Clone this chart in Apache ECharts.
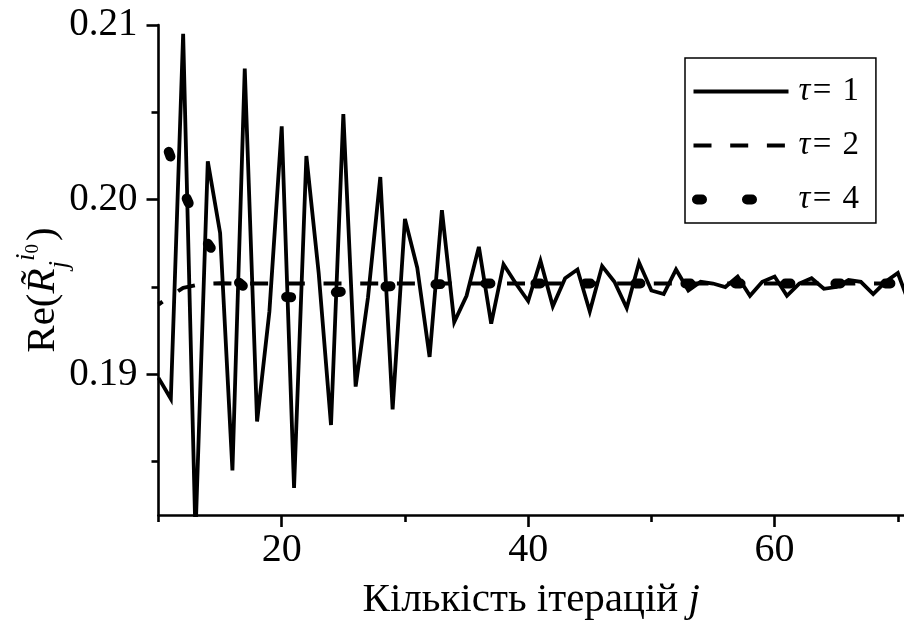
<!DOCTYPE html>
<html><head><meta charset="utf-8">
<script src="https://cdn.jsdelivr.net/npm/echarts@6/dist/echarts.min.js"></script>
<style>html,body{margin:0;padding:0;background:#fff}#c{width:904px;height:623px}</style>
</head><body><div id="c"></div>
<script>
// ---- data ----
const iterations = [10,11,12,13,14,15,16,17,18,19,20,21,22,23,24,25,26,27,28,29,30,31,32,33,34,35,36,37,38,39,40,41,42,43,44,45,46,47,48,49,50,51,52,53,54,55,56,57,58,59,60,61,62,63,64,65,66,67,68,69,70,71];
const tau1 = [0.1898,0.1886,0.2095,0.1808,0.2022,0.1981,0.1845,0.2075,0.1873,0.1936,0.2042,0.1835,0.2025,0.1958,0.1871,0.2049,0.1893,0.1944,0.2013,0.1880,0.1989,0.1961,0.1910,0.1994,0.1930,0.1945,0.1973,0.1929,0.1963,0.1952,0.1942,0.1965,0.1939,0.1955,0.1960,0.1936,0.1962,0.1953,0.1938,0.1964,0.1948,0.1946,0.1960,0.1948,0.1953,0.1952,0.1950,0.1956,0.1945,0.1953,0.1956,0.1945,0.1952,0.1955,0.1949,0.1950,0.1954,0.1953,0.1946,0.1953,0.1958,0.1939];
const tau2 = [0.1940,0.1945,0.19495,0.1951,0.1952,0.19522,0.1952,0.1952,0.1952,0.1952,0.1952,0.1952,0.1952,0.1952,0.1952,0.1952,0.1952,0.1952,0.1952,0.1952,0.1952,0.1952,0.1952,0.1952,0.1952,0.1952,0.1952,0.1952,0.1952,0.1952,0.1952,0.1952,0.1952,0.1952,0.1952,0.1952,0.1952,0.1952,0.1952,0.1952,0.1952,0.1952,0.1952,0.1952,0.1952,0.1952,0.1952,0.1952,0.1952,0.1952,0.1952,0.1952,0.1952,0.1952,0.1952,0.1952,0.1952,0.1952,0.1952,0.1952,0.1952,0.1952];
const tau4 = [0.20431,0.20241,0.20052,0.19893,0.19748,0.19650,0.19556,0.19498,0.19480,0.19463,0.19445,0.19441,0.19449,0.19458,0.19467,0.19475,0.19483,0.19492,0.19500,0.19506,0.19508,0.19511,0.19514,0.19517,0.1952,0.1952,0.1952,0.1952,0.1952,0.1952,0.1952,0.1952,0.1952,0.1952,0.1952,0.1952,0.1952,0.1952,0.1952,0.1952,0.1952,0.1952,0.1952,0.1952,0.1952,0.1952,0.1952,0.1952,0.1952,0.1952,0.1952,0.1952,0.1952,0.1952,0.1952,0.1952,0.1952,0.1952,0.1952,0.1952,0.1952,0.1952];
const seriesNames = ['τ =1', 'τ =2', 'τ =4'];
const xMajorTicks = [20, 40, 60];
const xMinorTicks = [10, 30, 50, 70];
const yMajorTicks = [0.19, 0.20, 0.21];
const yMinorTicks = [0.185, 0.195, 0.205];
const xTitle = 'Кількість ітерацій ';
const xTitleVar = 'j';

// ---- chart ----
const F = 'Liberation Serif';
const pairs = arr => iterations.map((x, i) => [x, arr[i]]);
const chart = echarts.init(document.getElementById('c'), null, {renderer: 'canvas'});
const axisLineStyle = {color: '#000', width: 2.6};
const xMin = 10, xMax = 70.5, yMin = 0.18195, yMax = 0.21;
const hiddenSymbol = {color: 'rgba(0,0,0,0)', borderColor: 'rgba(0,0,0,0)', borderWidth: 0};

chart.setOption({
  animation: false,
  backgroundColor: '#fff',
  grid: {left: 158.5, right: 0, top: 25, bottom: 108, containLabel: false, outerBoundsMode: 'none'},
  xAxis: [
    {
      type: 'value', min: xMin, max: xMax, position: 'bottom',
      axisLine: {show: true, onZero: false, lineStyle: axisLineStyle},
      axisTick: {show: true, customValues: xMajorTicks, length: 12, lineStyle: axisLineStyle},
      axisLabel: {customValues: xMajorTicks, fontFamily: F, fontSize: 40, color: '#000', margin: 15},
      splitLine: {show: false},
      name: '{n|' + xTitle + '}{j|' + xTitleVar + '}',
      nameLocation: 'middle', nameGap: 65,
      nameTextStyle: {rich: {
        n: {fontFamily: F, fontSize: 41, color: '#000'},
        j: {fontFamily: F, fontSize: 41, fontStyle: 'italic', color: '#000'}
      }}
    },
    {
      type: 'value', min: xMin, max: xMax, position: 'bottom',
      axisLine: {show: false, onZero: false},
      axisTick: {show: true, customValues: xMinorTicks, length: 7, lineStyle: axisLineStyle},
      axisLabel: {show: false},
      splitLine: {show: false}
    }
  ],
  yAxis: [
    {
      type: 'value', min: yMin, max: yMax, position: 'left',
      axisLine: {show: true, onZero: false, lineStyle: axisLineStyle},
      axisTick: {show: true, customValues: yMajorTicks, length: 12, lineStyle: axisLineStyle},
      axisLabel: {customValues: yMajorTicks, formatter: v => v.toFixed(2), fontFamily: F, fontSize: 39, color: '#000', margin: 21},
      splitLine: {show: false},
      name: '{a|Re(}{r|R\u0303}{j|j}{i|i}{z|0}{a|)}',
      nameLocation: 'middle', nameGap: 85, nameRotate: 90, nameMoveOverlap: false,
      nameTextStyle: {
        padding: [0, 40, 0, 0],
        rich: {
        a: {fontFamily: F, fontSize: 41, color: '#000', lineHeight: 60},
        r: {fontFamily: F, fontSize: 41, fontStyle: 'italic', color: '#000', lineHeight: 60},
        j: {fontFamily: F, fontSize: 27, fontStyle: 'italic', color: '#000', lineHeight: 28, verticalAlign: 'bottom'},
        i: {fontFamily: F, fontSize: 27, fontStyle: 'italic', color: '#000', lineHeight: 54, verticalAlign: 'top'},
        z: {fontFamily: F, fontSize: 19, color: '#000', lineHeight: 50, verticalAlign: 'top', padding: [10, 3, 0, 0]}
      }}
    },
    {
      type: 'value', min: yMin, max: yMax, position: 'left',
      axisLine: {show: false, onZero: false},
      axisTick: {show: true, customValues: yMinorTicks, length: 7, lineStyle: axisLineStyle},
      axisLabel: {show: false},
      splitLine: {show: false}
    }
  ],
  legend: {
    orient: 'vertical', left: 685, top: 58,
    padding: [17, 17, 7, 3.5],
    itemWidth: 95, itemHeight: 30, itemGap: 21,
    borderColor: '#000', borderWidth: 1.5,
    selectedMode: false,
    formatter: name => '{t|τ}{s| }{e|=}{o|' + name.split('=')[1] + '}',
    textStyle: {
      fontFamily: F, fontSize: 32, color: '#000',
      rich: {
        t: {fontFamily: F, fontSize: 33, fontStyle: 'italic', color: '#000', lineHeight: 30, padding: [0, 0, 0, 5]},
        s: {fontFamily: F, fontSize: 10, color: '#000', lineHeight: 30},
        e: {fontFamily: F, fontSize: 33, color: '#000', lineHeight: 30},
        o: {fontFamily: F, fontSize: 33, color: '#000', lineHeight: 30, padding: [0, 0, 0, 11]}
      }
    },
    data: [
      {name: seriesNames[0], itemStyle: hiddenSymbol, lineStyle: {width: 3.8}},
      {name: seriesNames[1], itemStyle: hiddenSymbol, lineStyle: {width: 4, dashOffset: 0}},
      {name: seriesNames[2], itemStyle: hiddenSymbol, lineStyle: {width: 10, dashOffset: -3.5}}
    ]
  },
  series: [
    {
      name: seriesNames[0], type: 'line', data: pairs(tau1), symbol: 'none', z: 3,
      itemStyle: {color: '#000'},
      lineStyle: {color: '#000', width: 3.8, join: 'miter', miterLimit: 4}
    },
    {
      name: seriesNames[1], type: 'line', data: pairs(tau2), symbol: 'none', z: 2,
      itemStyle: {color: '#000'},
      lineStyle: {color: '#000', width: 4, type: [18, 18.7], dashOffset: 13, cap: 'butt'}
    },
    {
      name: seriesNames[2], type: 'line', data: pairs(tau4), symbol: 'none', z: 2,
      itemStyle: {color: '#000'},
      lineStyle: {color: '#000', width: 10, type: [5, 45], dashOffset: 20.7, cap: 'round'}
    }
  ]
});
</script></body></html>
